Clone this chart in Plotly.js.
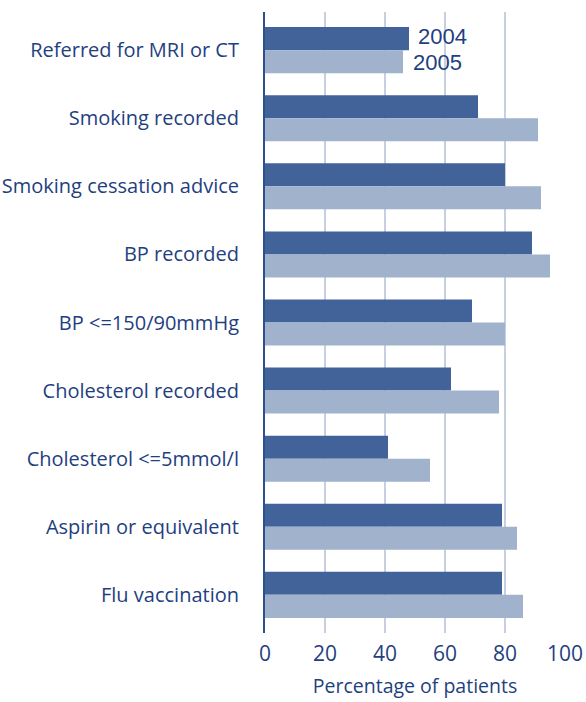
<!DOCTYPE html>
<html>
<head>
<meta charset="utf-8">
<script src="https://cdn.plot.ly/plotly-3.0.1.min.js"></script>
<style>html,body{margin:0;padding:0;background:#fff;}#chart{width:586px;height:702px;}</style>
</head>
<body>
<div id="chart"></div>
<script>
const categories = [
  "Referred for MRI or CT",
  "Smoking recorded",
  "Smoking cessation advice",
  "BP recorded",
  "BP <=150/90mmHg",
  "Cholesterol recorded",
  "Cholesterol <=5mmol/l",
  "Aspirin or equivalent",
  "Flu vaccination"
];
const seriesNames = ["2004", "2005"];
const values2004 = [48, 71, 80, 89, 69, 62, 41, 79, 79];
const values2005 = [46, 91, 92, 95, 80, 78, 55, 84, 86];
const xTicks = [0, 20, 40, 60, 80, 100];
const xTitle = "Percentage of patients";

const textColor = "#1f3f7f";
const font = "Open Sans, sans-serif";
const labelFont = "Liberation Sans, Arial, sans-serif";

const traces = [
  {type: "bar", orientation: "h", name: seriesNames[0], y: categories, x: values2004,
   marker: {color: "#41639a"}, hoverinfo: "x"},
  {type: "bar", orientation: "h", name: seriesNames[1], y: categories, x: values2005,
   marker: {color: "#a1b2cc"}, hoverinfo: "x"}
];

const layout = {
  width: 586, height: 702,
  margin: {l: 265, r: 21, t: 12, b: 69},
  paper_bgcolor: "#fff", plot_bgcolor: "#fff",
  barmode: "group", bargap: 0.324, bargroupgap: 0,
  showlegend: false,
  font: {family: font, color: textColor},
  xaxis: {
    range: [0, 100], tickvals: xTicks, ticktext: xTicks.map(String),
    showgrid: true, gridcolor: "#c6d0e0", gridwidth: 2,
    zeroline: false, showline: false, ticks: "",
    tickfont: {size: 21, color: textColor, family: font},
    ticklabelstandoff: 6,
    title: {text: xTitle, font: {size: 19.5, color: textColor, family: font}, standoff: 13},
    fixedrange: true
  },
  yaxis: {
    type: "category", range: [8.56, -0.56],
    showgrid: false, zeroline: false,
    showline: true, linecolor: "#2d4f8c", linewidth: 2,
    ticks: "", tickfont: {size: 20, color: textColor, family: font},
    ticklabelstandoff: 20,
    fixedrange: true
  },
  annotations: [
    {x: values2004[0], y: categories[0], xref: "x", yref: "y", text: seriesNames[0],
     showarrow: false, xanchor: "left", yanchor: "middle", xshift: 8, yshift: 13.5,
     borderpad: 0,
     font: {size: 22, color: textColor, family: labelFont}},
    {x: values2005[0], y: categories[0], xref: "x", yref: "y", text: seriesNames[1],
     showarrow: false, xanchor: "left", yanchor: "middle", xshift: 9, yshift: -12.5,
     borderpad: 0,
     font: {size: 22, color: textColor, family: labelFont}}
  ]
};

Plotly.newPlot("chart", traces, layout, {displayModeBar: false, staticPlot: true});
</script>
</body>
</html>
